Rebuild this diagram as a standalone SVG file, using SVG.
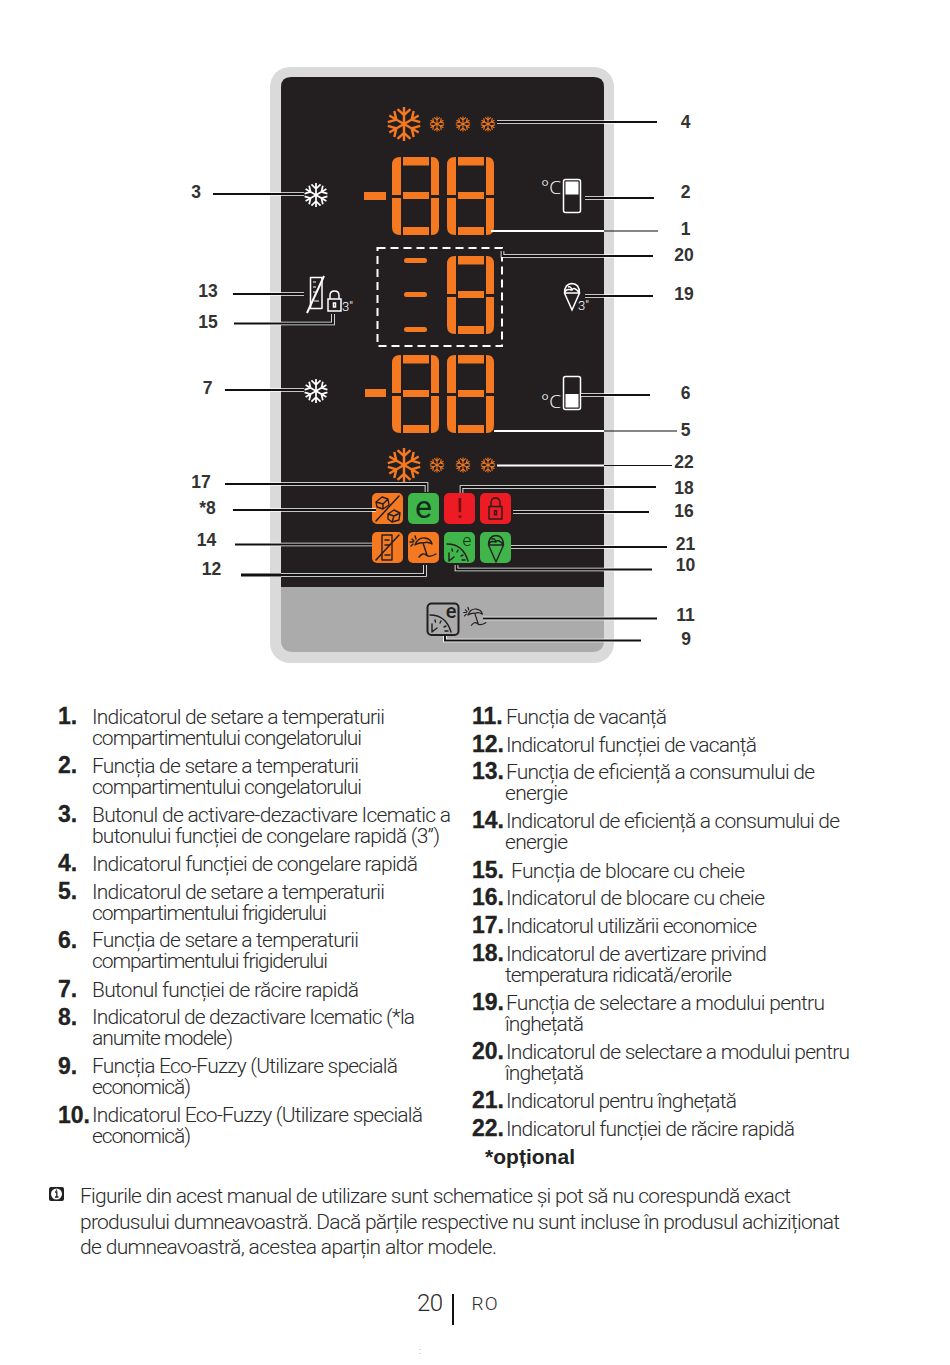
<svg xmlns="http://www.w3.org/2000/svg" xmlns:xlink="http://www.w3.org/1999/xlink" width="950" height="1365" viewBox="0 0 950 1365">
<style>
text{font-family:"Roboto","Liberation Sans",sans-serif}
.t{font-size:21px;font-weight:300;fill:#2b2b2b}
.n{font-family:"Liberation Sans",sans-serif;font-size:23px;font-weight:700;fill:#222;stroke:#222;stroke-width:.3}
.op{font-family:"Liberation Sans",sans-serif;font-size:21px;font-weight:700;fill:#222}
.l{font-family:"Liberation Sans",sans-serif;font-size:17.5px;font-weight:700;fill:#333;text-anchor:middle}
.seg{fill:#f47920}
.halo{fill:none;stroke:#fff;stroke-width:3.6}
.core{fill:none;stroke:#111;stroke-width:1.9}
.ico{fill:none;stroke:#231f20;stroke-width:1.4;stroke-linecap:round;stroke-linejoin:round}
.wh{fill:none;stroke:#fff;stroke-width:1.5;stroke-linejoin:round}
.or{fill:#f47920}.gr{fill:#3fb54a}.rd{fill:#ed1c24}
.deg{font-family:"Open Sans",sans-serif;font-size:19px;font-weight:300;fill:#fff}
</style>
<defs>
<g id="d8" class="seg">
<path d="M0 8Q0 0 8 0H9V38H0Z"/><path d="M0 41H9V78H8Q0 78 0 70Z"/>
<rect x="11" y="0" width="26" height="8.500"/><rect x="11" y="35" width="26" height="7"/><rect x="11" y="70" width="26" height="8"/>
<path d="M39 0H40Q47 0 47 8V38H39Z"/><path d="M39 41H47V70Q47 78 40 78H39Z"/>
</g>
<path id="arm" d="M0 0V-10M-3.800 -8.800L0 -5.200L3.800 -8.800" fill="none" stroke="currentColor" stroke-width="1.450" stroke-linecap="butt" stroke-linejoin="miter"/>
<g id="flake">
<use xlink:href="#arm" href="#arm"/><use href="#arm" xlink:href="#arm" transform="rotate(60)"/><use href="#arm" xlink:href="#arm" transform="rotate(120)"/>
<use href="#arm" xlink:href="#arm" transform="rotate(180)"/><use href="#arm" xlink:href="#arm" transform="rotate(240)"/><use href="#arm" xlink:href="#arm" transform="rotate(300)"/>
</g>
<g id="gauge">
<path d="M3 12Q19 12 24 29M5 29V21M5 29L10 25M8 17L8.500 19M14 18L13 20M19 23L17 24M18 28H21"/>
</g>
<g id="umb">
<path d="M7 13Q10 5 17 6Q23 7 24 12Q19 9 16 11Q12 10 7 13ZM15 11L19 23M11 25Q15 20 18 23T28 22M4 7L6 9M2 10H5M7 4L8 7M3 14L5 12"/>
</g>
<g id="cone">
<path d="M1.500 11Q1.500 2 9 1.500Q16.500 2 16.500 11L9 28ZM1.500 11H16.500M1.500 11Q3 6 9 8Q11 4 16.500 11M5 5Q8 4 9 8"/>
</g>
<g id="lockp">
<path d="M3 9V5.500Q3 1 7.500 1Q12 1 12 5.500V9M1 9H14V21H1ZM6.500 13H8.500V17H6.500Z"/>
</g>
</defs>

<rect width="950" height="1365" fill="#fff"/>

<g id="panel">
<rect x="270" y="67" width="344" height="596" rx="20" fill="#dadada"/>
<path d="M291 77H594Q604 77 604 87V587H281V87Q281 77 291 77Z" fill="#231f20"/>
<path d="M281 587H604V640Q604 652 592 652H293Q281 652 281 640Z" fill="#ababab"/>
</g>

<g id="freezer-fast-indicator" color="#f47920">
<use href="#flake" xlink:href="#flake" transform="translate(404 124) scale(1.7)"/>
<use href="#flake" xlink:href="#flake" transform="translate(437 124) scale(.75)"/>
<use href="#flake" xlink:href="#flake" transform="translate(463 124) scale(.75)"/>
<use href="#flake" xlink:href="#flake" transform="translate(488 124) scale(.75)"/>
</g>
<g id="freezer-button" color="#fff"><use href="#flake" xlink:href="#flake" transform="translate(316 195) scale(1.2)"/></g>
<g id="freezer-display">
<rect class="seg" x="364" y="192" width="22" height="8"/>
<use href="#d8" xlink:href="#d8" x="392" y="157"/><use href="#d8" xlink:href="#d8" x="447" y="157"/>
</g>
<g id="freezer-setting">
<text class="deg" x="541" y="194">°C</text>
<rect class="wh" x="563.500" y="179.500" width="17" height="33" rx="2"/><rect x="565.500" y="181.500" width="13" height="13" fill="#fff"/>
</g>
<g id="ice-cream-display">
<rect x="377.500" y="248" width="124.500" height="98" fill="none" stroke="#fff" stroke-width="2" stroke-dasharray="8 5"/>
<rect class="seg" x="404" y="258" width="23" height="5" rx="2.500"/><rect class="seg" x="404" y="292" width="23" height="5" rx="2.500"/><rect class="seg" x="404" y="327" width="23" height="5" rx="2.500"/>
<use href="#d8" xlink:href="#d8" x="447" y="256"/>
</g>
<g id="eco-function"><rect class="wh" x="310.500" y="277.500" width="11.500" height="31"/><path d="M307 313L324 276" stroke="#fff" stroke-width="2"/><path d="M313 282H316M313 287H316M313 292H317M314 301H319" stroke="#fff" stroke-width="1"/></g>
<g id="key-lock-function" fill="none" stroke="#fff" stroke-width="1.500"><use href="#lockp" xlink:href="#lockp" transform="translate(327 290)"/><text x="342" y="311" font-size="13" fill="#fff" stroke="none" font-weight="300">3"</text></g>
<g id="ice-cream-function" fill="none" stroke="#fff" stroke-width="1.500"><use href="#cone" xlink:href="#cone" transform="translate(563 282)"/><text x="578" y="310" font-size="13" fill="#fff" stroke="none" font-weight="300">3"</text></g>
<g id="fridge-button" color="#fff"><use href="#flake" xlink:href="#flake" transform="translate(316 391) scale(1.2)"/></g>
<g id="fridge-display">
<rect class="seg" x="365" y="389" width="21" height="8"/>
<use href="#d8" xlink:href="#d8" x="392" y="355"/><use href="#d8" xlink:href="#d8" x="447" y="355"/>
</g>
<g id="fridge-setting">
<text class="deg" x="541" y="408">°C</text>
<rect class="wh" x="563.500" y="376.500" width="17" height="33" rx="2"/><rect x="565.500" y="394" width="13" height="13.500" fill="#fff"/>
</g>
<g id="fridge-fast-indicator" color="#f47920">
<use href="#flake" xlink:href="#flake" transform="translate(404 465) scale(1.7)"/>
<use href="#flake" xlink:href="#flake" transform="translate(437 465) scale(.75)"/>
<use href="#flake" xlink:href="#flake" transform="translate(463 465) scale(.75)"/>
<use href="#flake" xlink:href="#flake" transform="translate(488 465) scale(.75)"/>
</g>

<g id="icematic-off"><rect class="or" x="372" y="493" width="31" height="31" rx="5"/>
<g class="ico" stroke-width="1"><path d="M376 502L382 497L388 499L389 505L383 509L377 507ZM376 502L383 504L388 499M383 504V509M388 514L394 510L400 513L399 520L392 522L388 519ZM388 514L394 516L400 513M394 516L392 522"/><path d="M376 521L399 496" stroke-width="1.500"/></g></g>
<g id="eco-use"><rect class="gr" x="408" y="493" width="31" height="31" rx="5"/><text x="423.500" y="518" font-size="32" font-weight="400" fill="#0f2e1a" text-anchor="middle">e</text></g>
<g id="alarm"><rect class="rd" x="444" y="493" width="31" height="31" rx="5"/><text x="459.500" y="518" font-size="28" font-weight="400" fill="#6e0d12" text-anchor="middle">!</text></g>
<g id="key-lock-indicator"><rect class="rd" x="480" y="493" width="31" height="31" rx="5"/><g class="ico" stroke-width="1.500"><use href="#lockp" xlink:href="#lockp" transform="translate(488 497) scale(1 1.050)"/></g></g>
<g id="eco-indicator"><rect class="or" x="372" y="532" width="31" height="31" rx="5"/><g class="ico" stroke-width="1"><path d="M382 535H392V560H382ZM385 540H389M385 545H389M385 555H390"/><path d="M376 560L399 535" stroke-width="1.500"/></g></g>
<g id="vacation-indicator"><rect class="or" x="408" y="532" width="31" height="31" rx="5"/><g class="ico" stroke-width="1" transform="translate(408 532)"><use href="#umb" xlink:href="#umb"/></g></g>
<g id="eco-fuzzy-indicator"><rect class="gr" x="444" y="532" width="31" height="31" rx="5"/><g class="ico" stroke-width="1.100" transform="translate(444 532)"><use href="#gauge" xlink:href="#gauge"/></g><text x="467" y="546" font-size="17" font-weight="300" fill="#0f2e1a" text-anchor="middle">e</text></g>
<g id="ice-cream-indicator"><rect class="gr" x="480" y="532" width="31" height="31" rx="5"/><g class="ico" stroke-width="1.200" transform="translate(487 534)"><use href="#cone" xlink:href="#cone"/></g></g>

<g id="eco-fuzzy-function"><rect x="427.500" y="603.500" width="31" height="31.500" rx="4" fill="none" stroke="#231f20" stroke-width="2"/><g class="ico" stroke-width="1.300" transform="translate(427 603)"><use href="#gauge" xlink:href="#gauge"/></g><text x="451" y="617.500" font-size="20" font-weight="500" fill="#231f20" text-anchor="middle">e</text></g>
<g id="vacation-function"><g class="ico" stroke-width="1" transform="translate(462 604) scale(.85)"><use href="#umb" xlink:href="#umb"/></g></g>

<g id="connectors">
<g class="halo">
<path id="c4" d="M497 122H657"/><path id="c3" d="M213 194H304"/><path id="c2" d="M585 198H654"/><path id="c1" d="M491 231H604" stroke-width="1.800"/><path id="c20" d="M502.500 251V256H653"/><path id="c19" d="M585 296H653"/><path id="c13" d="M233 294H304"/><path id="c15" d="M234 323.500H333V314"/><path id="c7" d="M225 390H304"/><path id="c6" d="M581 395H650"/><path id="c5" d="M494 431H604" stroke-width="1.800"/><path id="c22" d="M497 465.500H604" stroke-width="1.800"/><path id="c17" d="M225 484H426.500V492"/><path id="c8" d="M233 510H376"/><path id="c14" d="M235 544.500H372"/><path id="c12" d="M241 575H425V565"/><path id="c18" d="M461.500 493V487H656"/><path id="c16" d="M513 512H649"/><path id="c21" d="M511 547H667"/><path id="c10" d="M456.500 565V569.500H652"/><path id="c11" d="M483 618.500H657"/><path id="c9" d="M445 636V640.500H641"/>
</g>
<g class="core">
<path d="M497 122H657"/><path d="M213 194H304"/><path d="M585 198H654"/><path d="M604 231H658" stroke-width="1.200"/><path d="M502.500 251V256H653"/><path d="M585 296H653"/><path d="M233 294H304"/><path d="M234 323.500H333V314"/><path d="M225 390H304"/><path d="M581 395H650"/><path d="M604 431H677" stroke-width="1.200"/><path d="M604 465.500H672" stroke-width="1.200"/><path d="M225 484H426.500V492"/><path d="M233 510H376"/><path d="M235 544.500H372"/><path d="M241 575H425V565"/><path d="M241 575H281" stroke-width="3"/><path d="M461.500 493V487H656"/><path d="M513 512H649"/><path d="M511 547H667"/><path d="M456.500 565V569.500H652"/><path d="M483 618.500H657"/><path d="M445 636V640.500H641"/>
</g>
</g>

<g id="callouts">
<text class="l" x="685.500" y="128">4</text><text class="l" x="685.500" y="198">2</text><text class="l" x="685.500" y="235">1</text><text class="l" x="684" y="261">20</text><text class="l" x="684" y="300">19</text><text class="l" x="685.500" y="399">6</text><text class="l" x="685.500" y="436">5</text><text class="l" x="684" y="468">22</text><text class="l" x="684" y="494">18</text><text class="l" x="684" y="517">16</text><text class="l" x="685.500" y="550">21</text><text class="l" x="685.500" y="571">10</text><text class="l" x="685.500" y="621">11</text><text class="l" x="686" y="645">9</text>
<text class="l" x="196" y="198">3</text><text class="l" x="208" y="297">13</text><text class="l" x="208" y="328">15</text><text class="l" x="207.500" y="394">7</text><text class="l" x="201" y="488">17</text><text class="l" x="207.500" y="514">*8</text><text class="l" x="206.500" y="546">14</text><text class="l" x="211.500" y="575">12</text>
</g>

<g id="list-left">
<text class="n" x="58" y="724">1.</text><text class="t" x="92" y="724" textLength="293">Indicatorul de setare a temperaturii</text><text class="t" x="92" y="745" textLength="270">compartimentului congelatorului</text>
<text class="n" x="58" y="773">2.</text><text class="t" x="92" y="773" textLength="267">Funcția de setare a temperaturii</text><text class="t" x="92" y="794" textLength="270">compartimentului congelatorului</text>
<text class="n" x="58" y="822">3.</text><text class="t" x="92" y="822" textLength="359">Butonul de activare-dezactivare Icematic a</text><text class="t" x="92" y="843" textLength="348">butonului funcției de congelare rapidă (3”)</text>
<text class="n" x="58" y="871">4.</text><text class="t" x="92" y="871" textLength="326">Indicatorul funcției de congelare rapidă</text>
<text class="n" x="58" y="899">5.</text><text class="t" x="92" y="899" textLength="293">Indicatorul de setare a temperaturii</text><text class="t" x="92" y="920" textLength="235">compartimentului frigiderului</text>
<text class="n" x="58" y="948">6.</text><text class="t" x="92" y="947" textLength="267">Funcția de setare a temperaturii</text><text class="t" x="92" y="968" textLength="236">compartimentului frigiderului</text>
<text class="n" x="58" y="997">7.</text><text class="t" x="92" y="997" textLength="267">Butonul funcției de răcire rapidă</text>
<text class="n" x="58" y="1025">8.</text><text class="t" x="92" y="1024" textLength="323">Indicatorul de dezactivare Icematic (*la</text><text class="t" x="92" y="1045" textLength="141">anumite modele)</text>
<text class="n" x="58" y="1074">9.</text><text class="t" x="92" y="1073" textLength="306">Funcția Eco-Fuzzy (Utilizare specială</text><text class="t" x="92" y="1094" textLength="99">economică)</text>
<text class="n" x="58" y="1123">10.</text><text class="t" x="92" y="1122" textLength="331">Indicatorul Eco-Fuzzy (Utilizare specială</text><text class="t" x="92" y="1143" textLength="99">economică)</text>
</g>

<g id="list-right">
<text class="n" x="472" y="724">11.</text><text class="t" x="506" y="724" textLength="161">Funcția de vacanță</text>
<text class="n" x="472" y="752">12.</text><text class="t" x="506" y="752" textLength="251">Indicatorul funcției de vacanță</text>
<text class="n" x="472" y="779">13.</text><text class="t" x="506" y="779" textLength="309">Funcția de eficiență a consumului de</text><text class="t" x="505" y="800" textLength="63">energie</text>
<text class="n" x="472" y="828">14.</text><text class="t" x="506" y="828" textLength="334">Indicatorul de eficiență a consumului de</text><text class="t" x="505" y="849" textLength="63">energie</text>
<text class="n" x="472" y="878">15.</text><text class="t" x="511" y="878" textLength="234">Funcția de blocare cu cheie</text>
<text class="n" x="472" y="905">16.</text><text class="t" x="506" y="905" textLength="259">Indicatorul de blocare cu cheie</text>
<text class="n" x="472" y="933">17.</text><text class="t" x="506" y="933" textLength="251">Indicatorul utilizării economice</text>
<text class="n" x="472" y="961">18.</text><text class="t" x="506" y="961" textLength="261">Indicatorul de avertizare privind</text><text class="t" x="505" y="982" textLength="227">temperatura ridicată/erorile</text>
<text class="n" x="472" y="1010">19.</text><text class="t" x="506" y="1010" textLength="319">Funcția de selectare a modului pentru</text><text class="t" x="505" y="1031" textLength="79">înghețată</text>
<text class="n" x="472" y="1059">20.</text><text class="t" x="506" y="1059" textLength="344">Indicatorul de selectare a modului pentru</text><text class="t" x="505" y="1080" textLength="79">înghețată</text>
<text class="n" x="472" y="1108">21.</text><text class="t" x="506" y="1108" textLength="231">Indicatorul pentru înghețată</text>
<text class="n" x="472" y="1136">22.</text><text class="t" x="506" y="1136" textLength="289">Indicatorul funcției de răcire rapidă</text>
<text class="op" x="485" y="1164" textLength="90">*opțional</text>
</g>

<g id="note">
<rect x="49" y="1187" width="15" height="14" rx="2" fill="#222"/><circle cx="56.500" cy="1194" r="5.500" fill="#fff"/><path d="M55 1192H56.800V1197M55 1197H58.500M56.500 1189.500V1190.800" stroke="#222" stroke-width="1.300" fill="none"/>
<text class="t" x="80" y="1203" textLength="711">Figurile din acest manual de utilizare sunt schematice și pot să nu corespundă exact</text>
<text class="t" x="80" y="1229" textLength="760">produsului dumneavoastră. Dacă părțile respective nu sunt incluse în produsul achiziționat</text>
<text class="t" x="80" y="1254" textLength="417">de dumneavoastră, acestea aparțin altor modele.</text>
</g>

<g id="footer">
<text x="417" y="1311" font-size="24" font-weight="300" fill="#2b2b2b" textLength="26">20</text>
<path d="M453 1294V1325" stroke="#111" stroke-width="2"/>
<text x="471.500" y="1310" font-size="19" font-weight="300" fill="#2b2b2b" textLength="26">RO</text>
<text x="419" y="1354" font-size="9" fill="#999">:</text>
</g>
</svg>
